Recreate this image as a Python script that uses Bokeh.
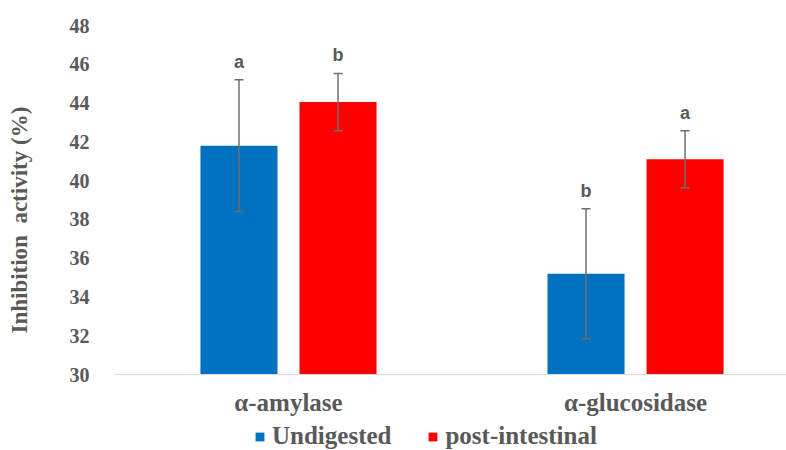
import numpy as np
from bokeh.plotting import figure
from bokeh.layouts import column
from bokeh.models import (ColumnDataSource, Range1d, FixedTicker, Whisker, TeeHead,
                          Legend, LegendItem)
from bokeh.core.properties import value
from bokeh.embed import file_html
from bokeh.resources import INLINE

# ---- data ----
categories = ["α-amylase", "α-glucosidase"]
series_names = ["Undigested", "post-intestinal"]
undigested = [41.8, 35.2]
undigested_err = [3.4, 3.35]
post_intestinal = [44.05, 41.1]
post_intestinal_err = [1.48, 1.47]
undigested_letters = ["a", "b"]
post_intestinal_letters = ["b", "a"]
y_ticks = [30, 32, 34, 36, 38, 40, 42, 44, 46, 48]
y_title = "Inhibition\u00a0\u00a0activity (%)"

BLUE = "#0070C0"
RED = "#FF0000"
GREY = "#595959"
ERR = "#6f6f6f"
SERIF = "Liberation Serif"
SANS = "Liberation Sans"

idx = np.arange(len(categories))
off = 0.1427
bw = 0.222

def make_src(vals, errs, letters, shift):
    v = np.array(vals, dtype=float)
    e = np.array(errs, dtype=float)
    return ColumnDataSource(dict(x=idx + shift, top=v, lo=v - e, hi=v + e, lab=letters))

src_u = make_src(undigested, undigested_err, undigested_letters, -off)
src_p = make_src(post_intestinal, post_intestinal_err, post_intestinal_letters, off)

p = figure(width=786, height=418, output_backend="svg", toolbar_location=None,
           x_range=Range1d(-0.5014, 1.435), y_range=Range1d(30, 48),
           min_border_left=114, min_border_right=0, min_border_top=25, min_border_bottom=42)
p.outline_line_color = None
p.xgrid.grid_line_color = None
p.ygrid.grid_line_color = None
p.background_fill_color = "white"
p.border_fill_color = "white"

r_u = p.vbar(x="x", top="top", bottom=30, width=bw, source=src_u, fill_color=BLUE, line_color=None)
r_p = p.vbar(x="x", top="top", bottom=30, width=bw, source=src_p, fill_color=RED, line_color=None)

for src in (src_u, src_p):
    w = Whisker(base="x", upper="hi", lower="lo", source=src, line_color=ERR, line_width=1.5,
                level="overlay",
                upper_head=TeeHead(size=9, line_color=ERR, line_width=1.5),
                lower_head=TeeHead(size=9, line_color=ERR, line_width=1.5))
    p.add_layout(w)
    p.text(x="x", y="hi", text="lab", source=src, text_align="center", text_baseline="bottom",
           y_offset=-8, text_font=value(SANS), text_font_style="bold", text_font_size="18px",
           text_color=GREY)

# y axis
ya = p.yaxis[0]
ya.ticker = FixedTicker(ticks=y_ticks)
ya.axis_line_color = None
ya.major_tick_line_color = None
ya.minor_tick_line_color = None
ya.major_label_standoff = 19
ya.major_label_text_font = SERIF
ya.major_label_text_font_style = "bold"
ya.major_label_text_font_size = "20px"
ya.major_label_text_color = GREY
ya.axis_label = y_title + "\u00a0" * 7
ya.axis_label_standoff = 35
ya.axis_label_text_font = SERIF
ya.axis_label_text_font_style = "bold"
ya.axis_label_text_font_size = "23px"
ya.axis_label_text_color = GREY

# x axis
xa = p.xaxis[0]
xa.ticker = FixedTicker(ticks=list(idx))
xa.major_label_overrides = {int(i): c for i, c in zip(idx, categories)}
xa.axis_line_color = "#d9d9d9"
xa.axis_line_width = 1
xa.major_tick_line_color = None
xa.minor_tick_line_color = None
xa.major_label_standoff = 8
xa.major_label_text_font = SERIF
xa.major_label_text_font_style = "bold"
xa.major_label_text_font_size = "25px"
xa.major_label_text_color = GREY

# legend strip below the chart (swatch glyphs use an off-range point, never visible)
lg = figure(width=786, height=32, output_backend="svg", toolbar_location=None,
            x_range=Range1d(0, 1), y_range=Range1d(0, 1),
            min_border_left=0, min_border_right=0, min_border_top=0, min_border_bottom=0)
lg.axis.visible = False
lg.xgrid.grid_line_color = None
lg.ygrid.grid_line_color = None
lg.outline_line_color = None
lg.border_fill_color = "white"
swatch = dict(x=[-10.0], top=[-10.0])
g_u = lg.vbar(source=ColumnDataSource(swatch), x="x", top="top", bottom=-11, width=0.1,
              fill_color=BLUE, line_color=None)
g_p = lg.vbar(source=ColumnDataSource(swatch), x="x", top="top", bottom=-11, width=0.1,
              fill_color=RED, line_color=None)
legend = Legend(items=[LegendItem(label=series_names[0], renderers=[g_u]),
                       LegendItem(label=series_names[1], renderers=[g_p])],
                orientation="horizontal", location=(140, 0),
                glyph_width=11, glyph_height=11, label_standoff=7, spacing=36,
                label_height=20, padding=0, margin=0, border_line_color=None,
                background_fill_alpha=0,
                label_text_font=SERIF, label_text_font_style="bold",
                label_text_font_size="25px", label_text_color=GREY)
lg.add_layout(legend)

page = column(p, lg, spacing=0)
open("out.html", "w").write(file_html(page, INLINE))
